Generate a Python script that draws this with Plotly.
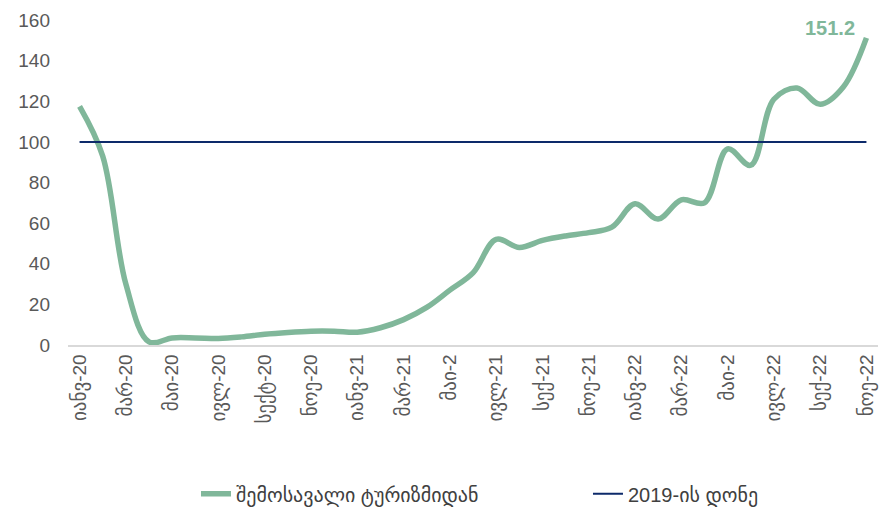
import plotly.graph_objects as go

categories = [
    "იანვ-20", "თებ-20", "მარ-20", "აპრ-20", "მაი-20", "ივნ-20", "ივლ-20", "აგვ-20", "სექტ-20", "ოქტ-20", "ნოე-20", "დეკ-20",
    "იანვ-21", "თებ-21", "მარ-21", "აპრ-21", "მაი-21", "ივნ-21", "ივლ-21", "აგვ-21", "სექ-21", "ოქტ-21", "ნოე-21", "დეკ-21",
    "იანვ-22", "თებ-22", "მარ-22", "აპრ-22", "მაი-22", "ივნ-22", "ივლ-22", "აგვ-22", "სექ-22", "ოქტ-22", "ნოე-22",
]
tourism_income = [
    117.5, 93, 30, 1.5, 3.5, 3.5, 3.2, 4, 5.3, 6.2, 6.8, 6.8,
    6.3, 8.5, 12.5, 18.5, 27, 35.5, 52, 48, 51.5, 53.7, 55.3, 58,
    69.5, 62, 71.5, 70, 96.5, 88.5, 121, 126.5, 118.5, 127, 151.2,
]
level_2019 = [100] * len(categories)

tick_positions = categories[::2]
tick_labels = [
    "იანვ-20", "მარ-20", "მაი-20", "ივლ-20", "სექტ-20", "ნოე-20",
    "იანვ-21", "მარ-21", "მაი-2", "ივლ-21", "სექ-21", "ნოე-21",
    "იანვ-22", "მარ-22", "მაი-2", "ივლ-22", "სექ-22", "ნოე-22",
]
y_ticks = [0, 20, 40, 60, 80, 100, 120, 140, 160]

series_names = ["შემოსავალი ტურიზმიდან", "2019-ის დონე"]
GREEN = "#80B79A"
NAVY = "#0D2A6A"
FONT = "Liberation Sans, DejaVu Sans, sans-serif"

fig = go.Figure()
fig.add_trace(go.Scatter(
    x=categories, y=tourism_income, mode="lines", name=series_names[0],
    line=dict(color=GREEN, width=5.5, shape="spline", smoothing=1.0),
))
fig.add_trace(go.Scatter(
    x=categories, y=level_2019, mode="lines", name=series_names[1],
    line=dict(color=NAVY, width=2),
))

fig.add_annotation(
    x=categories[-1], y=tourism_income[-1], text=f"<b>{tourism_income[-1]}</b>",
    showarrow=False, xanchor="right", yanchor="bottom", xshift=-9, yshift=-3,
    font=dict(color=GREEN, size=20, family=FONT),
)

fig.update_layout(
    width=882, height=509,
    margin=dict(l=68, r=4, t=20, b=164, autoexpand=False),
    paper_bgcolor="white", plot_bgcolor="white",
    font=dict(family=FONT, color="#595959", size=14),
    showlegend=True,
    legend=dict(
        orientation="h", x=0.158, xanchor="left", y=-0.458, yanchor="middle",
        font=dict(size=20, color="#404040"), entrywidth=347, entrywidthmode="pixels",
    ),
    xaxis=dict(
        type="category", categoryorder="array", categoryarray=categories,
        range=[-0.5, len(categories) - 0.5], automargin=False,
        tickmode="array", tickvals=tick_positions, ticktext=tick_labels,
        tickangle=-90, tickfont=dict(size=19, color="#595959"),
        showgrid=False, showline=True, linecolor="#D9D9D9", linewidth=1.5,
        ticks="", zeroline=False,
    ),
    yaxis=dict(
        range=[0, 160], tickmode="array", tickvals=y_ticks, automargin=False,
        tickfont=dict(size=19, color="#595959"),
        showgrid=False, zeroline=False, showline=False, ticks="",
        ticklabelstandoff=17,
    ),
)

fig.write_html(
    "out.html",
    config={"displayModeBar": False},
    post_script="document.body.style.margin='0';document.body.style.overflow='hidden';",
)
